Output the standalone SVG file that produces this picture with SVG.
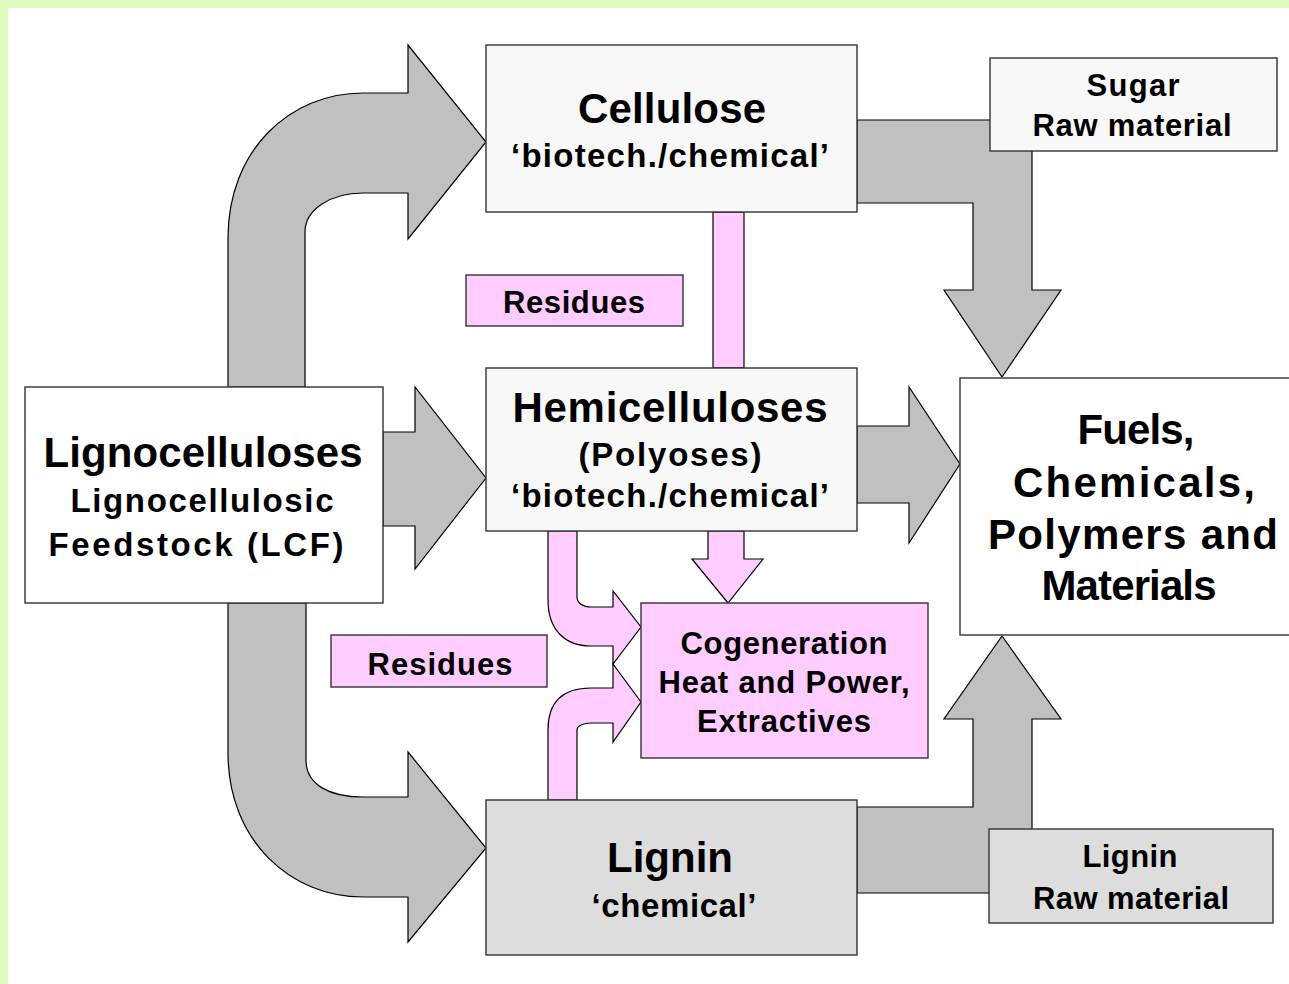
<svg xmlns="http://www.w3.org/2000/svg" width="1289" height="984" viewBox="0 0 1289 984">
<style>
.arrow{fill:#c0c0c0;stroke:#000;stroke-width:1.2;stroke-linejoin:miter}
.pink{fill:#ffccff;stroke:#000;stroke-width:1.2}
.box{stroke:#333;stroke-width:1.4}
.t{font-family:"Liberation Sans",Arial,sans-serif;font-weight:bold;fill:#000;text-anchor:middle}
.big{font-size:42px}
.mid{font-size:33px}
.sm{font-size:31px}
</style>
<rect x="0" y="0" width="1289" height="984" fill="#ddfbbb"/>
<rect x="8" y="8" width="1290" height="990" fill="#ffffff"/>
<g id="connectors">
<path class="arrow" d="M228,387 L228,238 C228,150 290,93 363,93 L408,93 L408,45 L486,142 L408,239 L408,193 L363,193 C330,193 305,210 305,232 L305,387 Z"/>
<path class="arrow" d="M228,603 L228,753 C228,840 290,897 363,897 L408,897 L408,942 L486,848 L408,752 L408,797 L363,797 C330,797 306,785 306,760 L306,603 Z"/>
<path class="arrow" d="M383,432 L415,432 L415,387 L486,478 L415,569 L415,526 L383,526 Z"/>
<path class="arrow" d="M857,426 L909,426 L909,387 L960,464 L909,543 L909,503 L857,503 Z"/>
<path class="arrow" d="M857,120 L1032,120 L1032,290 L1061,290 L1002,377 L944,290 L973,290 L973,203 L857,203 Z"/>
<path class="arrow" d="M857,807 L973,807 L973,719 L944,719 L1002,636 L1061,719 L1032,719 L1032,893 L857,893 Z"/>
<rect class="pink" x="713" y="212" width="31" height="156"/>
<path class="pink" d="M708,531 L744,531 L744,559 L763,559 L728,603 L692,559 L708,559 Z"/>
<path class="pink" d="M548,531 L548,600 C548,630 565,646 591,646 L613,646 L613,664 L641,627 L613,591 L613,607 L591,607 C583,607 577,603 577,597 L577,531 Z"/>
<path class="pink" d="M548,800 L548,730 C548,705 560,688 591,688 L613,688 L613,664 L641,702 L613,742 L613,723 L591,723 C583,723 577,726 577,730 L577,800 Z"/>
</g>
<g id="lignocelluloses">
<rect class="box" x="25" y="387" width="358" height="216" fill="#ffffff"/>
<text class="t big" x="203" y="467" textLength="319" lengthAdjust="spacing">Lignocelluloses</text>
<text class="t mid" x="202" y="512" textLength="263" lengthAdjust="spacing">Lignocellulosic</text>
<text class="t mid" x="196" y="556" textLength="295" lengthAdjust="spacing">Feedstock (LCF)</text>
</g>
<g id="cellulose">
<rect class="box" x="486" y="45" width="371" height="167" fill="#f8f8f8"/>
<text class="t big" x="672" y="123" textLength="188" lengthAdjust="spacing">Cellulose</text>
<text class="t mid" x="670" y="167" textLength="318" lengthAdjust="spacing">‘biotech./chemical’</text>
</g>
<g id="hemicelluloses">
<rect class="box" x="486" y="368" width="371" height="163" fill="#f8f8f8"/>
<text class="t big" x="670" y="422" textLength="315" lengthAdjust="spacing">Hemicelluloses</text>
<text class="t mid" x="670" y="466" textLength="183" lengthAdjust="spacing">(Polyoses)</text>
<text class="t mid" x="670" y="507" textLength="318" lengthAdjust="spacing">‘biotech./chemical’</text>
</g>
<g id="lignin">
<rect class="box" x="486" y="800" width="371" height="155" fill="#dddddd"/>
<text class="t big" x="670" y="872" textLength="126" lengthAdjust="spacing">Lignin</text>
<text class="t mid" x="674" y="917" textLength="165" lengthAdjust="spacing">‘chemical’</text>
</g>
<g id="sugar">
<rect class="box" x="990" y="58" width="287" height="93" fill="#f8f8f8"/>
<text class="t sm" x="1133" y="96" textLength="93" lengthAdjust="spacing">Sugar</text>
<text class="t sm" x="1132" y="136" textLength="199" lengthAdjust="spacing">Raw material</text>
</g>
<g id="fuels">
<rect class="box" x="960" y="378" width="340" height="257" fill="#ffffff"/>
<text class="t big" x="1136" y="444" textLength="117" lengthAdjust="spacing">Fuels,</text>
<text class="t big" x="1134" y="497" textLength="242" lengthAdjust="spacing">Chemicals,</text>
<text class="t big" x="1133" y="549" textLength="290" lengthAdjust="spacing">Polymers and</text>
<text class="t big" x="1129" y="600" textLength="175" lengthAdjust="spacing">Materials</text>
</g>
<g id="lignin-raw">
<rect class="box" x="989" y="829" width="284" height="94" fill="#dddddd"/>
<text class="t sm" x="1130" y="867" textLength="95" lengthAdjust="spacing">Lignin</text>
<text class="t sm" x="1131" y="909" textLength="196" lengthAdjust="spacing">Raw material</text>
</g>
<g id="residues-1">
<rect class="box" x="466" y="275" width="217" height="51" fill="#ffccff"/>
<text class="t sm" x="574" y="313" textLength="142" lengthAdjust="spacing">Residues</text>
</g>
<g id="residues-2">
<rect class="box" x="331" y="635" width="216" height="52" fill="#ffccff"/>
<text class="t sm" x="440" y="675" textLength="145" lengthAdjust="spacing">Residues</text>
</g>
<g id="cogeneration">
<rect class="box" x="641" y="603" width="287" height="155" fill="#ffccff"/>
<text class="t sm" x="784" y="654" textLength="207" lengthAdjust="spacing">Cogeneration</text>
<text class="t sm" x="784" y="693" textLength="251" lengthAdjust="spacing">Heat and Power,</text>
<text class="t sm" x="784" y="732" textLength="174" lengthAdjust="spacing">Extractives</text>
</g>
</svg>
